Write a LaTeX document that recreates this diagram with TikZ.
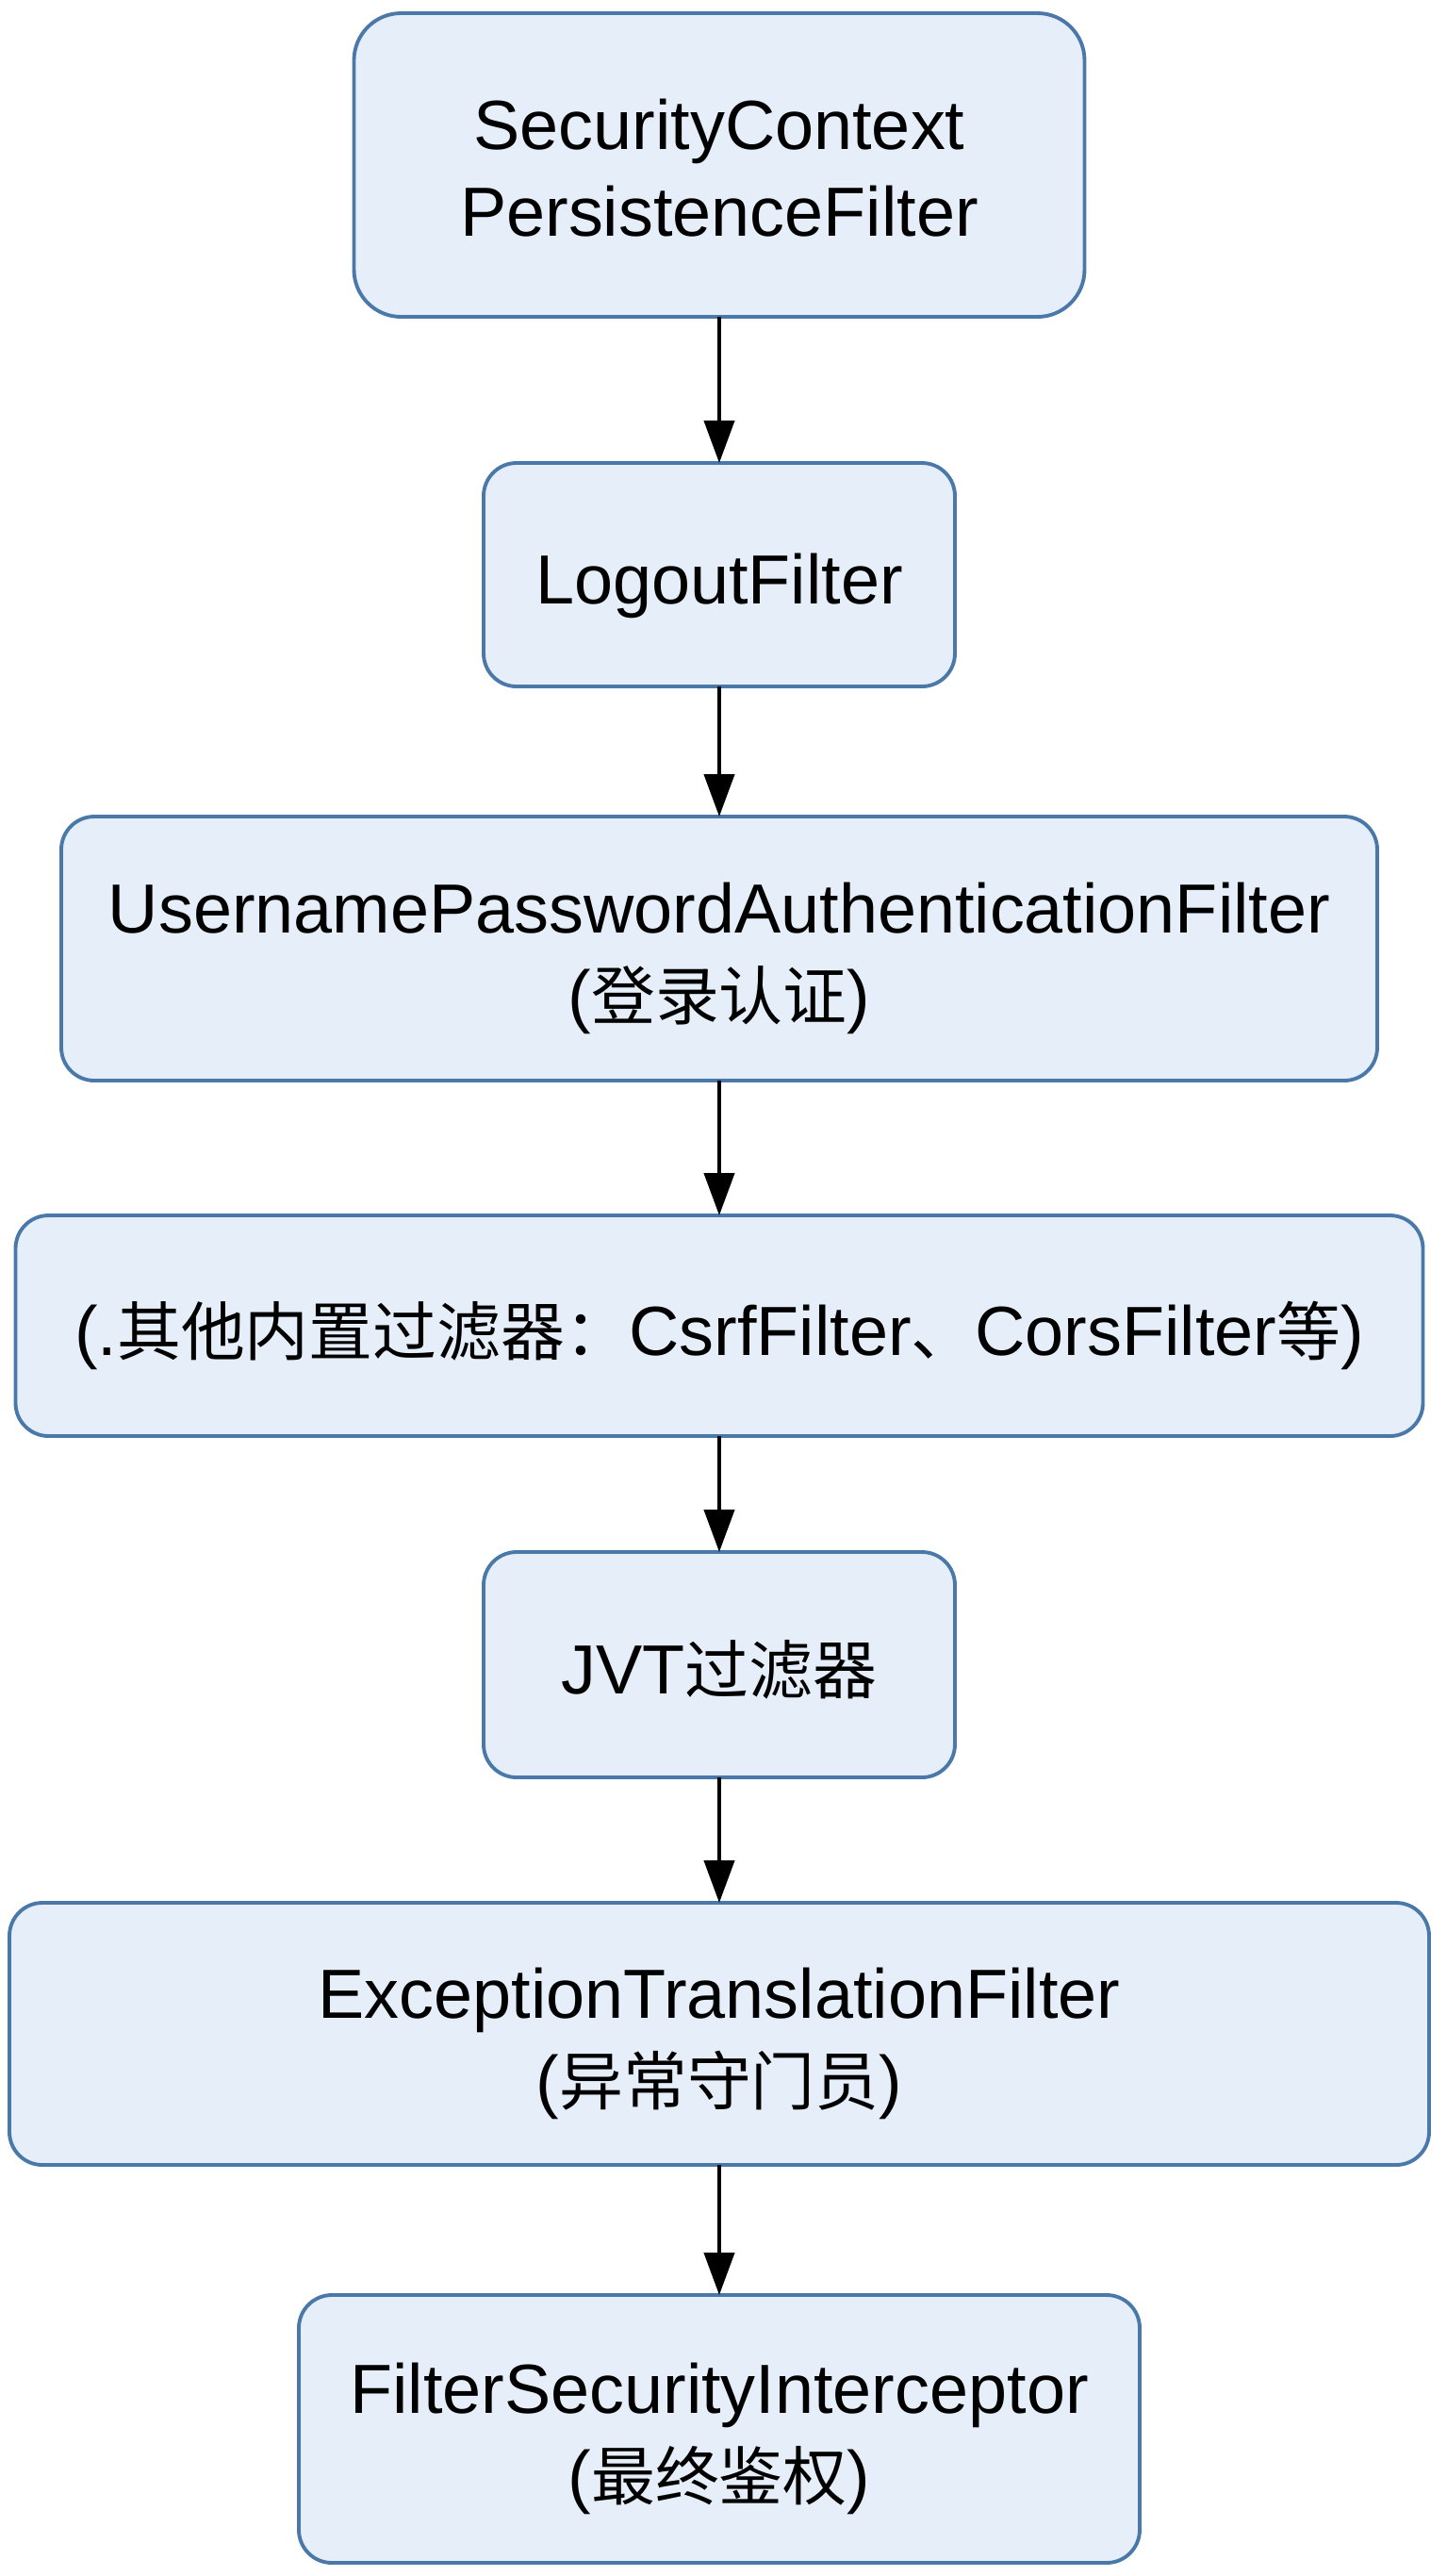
\documentclass[tikz,border=0pt]{standalone}
\usepackage{fontspec}
\setmainfont{Liberation Sans}
\newfontfamily\cjk[Scale=0.92]{Noto Sans CJK SC}
\newcommand{\zh}[1]{{\cjk #1}}
\usepackage{tikz}
\usetikzlibrary{arrows.meta, positioning}
\definecolor{boxfill}{HTML}{E6EFF9}
\definecolor{boxline}{HTML}{4A78A9}

\begin{document}
\begin{tikzpicture}[
  filterbox/.style={rectangle, rounded corners=0.35cm, draw=boxline, line width=1.1pt,
                    fill=boxfill, align=center, inner sep=0pt, outer sep=0pt,
                    font=\fontsize{21}{26}\selectfont},
  oneline/.style={text height=0.62cm, text depth=0cm},
  twoline/.style={text height=1.5cm, text depth=0cm},
  arrow/.style={-{Stealth[length=0.45cm, width=0.32cm, inset=0pt]}, line width=1.2pt},
]
  \useasboundingbox (0,0) rectangle (15.35,-27.32);

  \node[filterbox, twoline, rounded corners=0.5cm, minimum width=7.75cm, minimum height=3.22cm]
    (persist) at (7.63,-1.75) {SecurityContext\\PersistenceFilter};
  \node[filterbox, oneline, minimum width=5cm, minimum height=2.37cm, below=1.55cm of persist]
    (logout) {LogoutFilter};
  \node[filterbox, twoline, minimum width=13.96cm, minimum height=2.8cm, below=1.38cm of logout]
    (userpass) {UsernamePasswordAuthenticationFilter\\(\zh{登录认证})};
  \node[filterbox, oneline, minimum width=14.93cm, minimum height=2.34cm, below=1.43cm of userpass]
    (others) {(.\zh{其他内置过滤器：}CsrfFilter\zh{、}CorsFilter\zh{等})};
  \node[filterbox, oneline, minimum width=5cm, minimum height=2.39cm, below=1.23cm of others]
    (jvt) {JVT\zh{过滤器}};
  \node[filterbox, twoline, minimum width=15.06cm, minimum height=2.78cm, below=1.33cm of jvt]
    (exception) {ExceptionTranslationFilter\\(\zh{异常守门员})};
  \node[filterbox, twoline, minimum width=8.92cm, minimum height=2.84cm, below=1.38cm of exception]
    (interceptor) {FilterSecurityInterceptor\\(\zh{最终鉴权})};

  \draw[arrow] (persist) -- (logout);
  \draw[arrow] (logout) -- (userpass);
  \draw[arrow] (userpass) -- (others);
  \draw[arrow] (others) -- (jvt);
  \draw[arrow] (jvt) -- (exception);
  \draw[arrow] (exception) -- (interceptor);
\end{tikzpicture}
\end{document}
